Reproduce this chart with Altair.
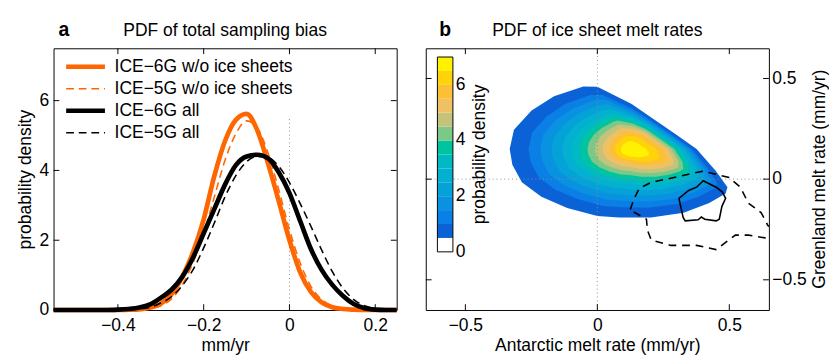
import altair as alt
import pandas as pd

FONT = "Liberation Sans"
FS = 18

# ---------------- panel a : PDF of total sampling bias ----------------
bias_x = [-0.55, -0.525, -0.5, -0.475, -0.45, -0.425, -0.4, -0.375, -0.35, -0.325,
          -0.3, -0.275, -0.25, -0.225, -0.2, -0.175, -0.15, -0.125, -0.1, -0.075,
          -0.05, -0.025, 0.0, 0.025, 0.05, 0.075, 0.1, 0.125, 0.15, 0.175, 0.2, 0.225, 0.25]
ice6g_wo = [0, 0, 0, 0, 0, 0, 0, 0.01, 0.02, 0.07, 0.18, 0.45, 0.95, 1.65, 2.6, 3.85, 4.85,
            5.45, 5.62, 5.15, 4.2, 3.12, 2.0, 1.08, 0.52, 0.22, 0.08, 0.03, 0.01, 0, 0, 0, 0]
ice5g_wo = [0, 0, 0, 0, 0, 0, 0, 0, 0.01, 0.04, 0.12, 0.32, 0.72, 1.35, 2.2, 3.25, 4.3,
            5.05, 5.42, 5.22, 4.5, 3.45, 2.3, 1.35, 0.68, 0.3, 0.12, 0.05, 0.02, 0.01, 0, 0, 0]
ice6g_all = [0, 0, 0, 0, 0, 0, 0.01, 0.03, 0.07, 0.16, 0.35, 0.58, 0.95, 1.5, 2.2, 2.9, 3.6,
             4.15, 4.4, 4.45, 4.35, 3.95, 3.35, 2.55, 1.75, 1.15, 0.72, 0.4, 0.17, 0.05, 0.01, 0, 0]
ice5g_all = [0, 0, 0, 0, 0, 0, 0, 0.01, 0.03, 0.08, 0.2, 0.38, 0.7, 1.15, 1.78, 2.5, 3.25,
             3.85, 4.25, 4.4, 4.37, 4.12, 3.65, 3.05, 2.4, 1.72, 1.1, 0.62, 0.3, 0.12, 0.04, 0.01, 0]
series_names = ["ICE\u22126G w/o ice sheets", "ICE\u22125G w/o ice sheets",
                "ICE\u22126G all", "ICE\u22125G all"]
series_values = [ice6g_wo, ice5g_wo, ice6g_all, ice5g_all]
series_color = ["#ff6600", "#ff6600", "#000000", "#000000"]
series_width = [4.8, 1.6, 4.8, 1.6]
series_dashed = [False, True, False, True]
bias_ticks_x = [-0.4, -0.2, 0, 0.2]
bias_ticks_y = [0, 2, 4, 6]
bias_zero_line_top = [5.56]

# ---------------- panel b : PDF of ice sheet melt rates ----------------
peak_xy = [0.143, 0.149]
outer_x = [-0.053, 0.000, 0.130, 0.207, 0.254, 0.305, 0.376, 0.449, 0.493, 0.486, 0.424, 0.327,
           0.203, 0.082, 0.000, -0.114, -0.212, -0.286, -0.322, -0.332, -0.316, -0.249, -0.164]
outer_y = [0.460, 0.459, 0.373, 0.304, 0.262, 0.216, 0.150, 0.040, -0.040, -0.071, -0.118, -0.167,
           -0.190, -0.190, -0.183, -0.143, -0.088, -0.016, 0.071, 0.150, 0.246, 0.341, 0.412]
# how strongly the bands are packed toward the edge on each side (0 = wide bands, 1 = packed)
side_weight = [0.2, 0.3, 0.7, 1.0, 1.0, 1.0, 1.0, 0.8, 0.55, 0.45, 0.35, 0.2,
               0.1, 0.0, 0.0, 0.0, 0.0, 0.0, 0.0, 0.0, 0.0, 0.05, 0.1]
contour_levels = [0.5, 1.0, 1.5, 2.0, 2.5, 3.0, 3.5, 4.0, 4.5, 5.0, 5.5, 6.0, 6.5]
frac_wide = [1.0, 0.85, 0.757, 0.667, 0.58, 0.505, 0.44, 0.38, 0.32, 0.26, 0.205, 0.16, 0.113]
frac_packed = [1.0, 0.92, 0.88, 0.84, 0.79, 0.74, 0.69, 0.64, 0.59, 0.53, 0.45, 0.34, 0.18]
band_colors = ["#ffffff", "#0b62d6", "#0a7fe6", "#0892e0", "#05a2d8", "#03b0d0", "#00bac3",
               "#00c49f", "#7cc887", "#c4c37c", "#eec264", "#fdbf34", "#ffd30a", "#fff200"]
band_lo = [0, 0.5, 1, 1.5, 2, 2.5, 3, 3.5, 4, 4.5, 5, 5.5, 6, 6.5]
band_hi = [0.5, 1, 1.5, 2, 2.5, 3, 3.5, 4, 4.5, 5, 5.5, 6, 6.5, 7]
colorbar_ticks = [0, 2, 4, 6]

solid_x = [0.309, 0.346, 0.376, 0.401, 0.450, 0.474, 0.486, 0.472, 0.462, 0.450, 0.407, 0.394,
           0.382, 0.333, 0.325, 0.309]
solid_y = [-0.095, -0.056, -0.040, -0.008, -0.040, -0.064, -0.095, -0.135, -0.199, -0.207, -0.199,
           -0.188, -0.202, -0.207, -0.190, -0.095]
dashed_x = [0.125, 0.137, 0.159, 0.204, 0.290, 0.401, 0.499, 0.542, 0.572, 0.621, 0.646, 0.680,
            0.646, 0.572, 0.523, 0.450, 0.376, 0.278, 0.204, 0.190, 0.186, 0.143, 0.125]
dashed_y = [-0.151, -0.103, -0.046, -0.016, 0.008, 0.040, 0.008, -0.040, -0.119, -0.167, -0.230,
            -0.262, -0.294, -0.278, -0.278, -0.350, -0.329, -0.329, -0.302, -0.254, -0.199, -0.167,
            -0.151]
melt_ticks = [-0.5, 0, 0.5]

# ---------------- layout constants ----------------
W, H = 354, 270
TICK = 6
GRAY = "#8c8c8c"


def inward_ticks(xfield_enc, yfield_enc, xvals, yvals, w, h):
    dx = pd.DataFrame({"x": xvals})
    dy = pd.DataFrame({"y": yvals})
    base = dict(color="black", strokeWidth=1)
    return [
        alt.Chart(dx).mark_rule(**base).encode(x=xfield_enc, y=alt.value(h), y2=alt.value(h - TICK)),
        alt.Chart(dx).mark_rule(**base).encode(x=xfield_enc, y=alt.value(0), y2=alt.value(TICK)),
        alt.Chart(dy).mark_rule(**base).encode(y=yfield_enc, x=alt.value(0), x2=alt.value(TICK)),
        alt.Chart(dy).mark_rule(**base).encode(y=yfield_enc, x=alt.value(w - TICK), x2=alt.value(w)),
    ]


one = pd.DataFrame({"k": [0]})

# ===== panel a =====
XA = alt.X("x:Q", scale=alt.Scale(domain=[-0.55, 0.25], nice=False, zero=False),
           axis=alt.Axis(values=bias_ticks_x, format="~g", title="mm/yr", grid=False, ticks=False,
                         domain=False, labelPadding=7.5, titlePadding=2, labelFlush=False))
YA = alt.Y("y:Q", scale=alt.Scale(domain=[0, 7.5], nice=False, zero=False),
           axis=alt.Axis(values=bias_ticks_y, format="~g", title="probability density", grid=False,
                         ticks=False, domain=False, labelPadding=5, titlePadding=5, labelFlush=False))

rows = []
for s, vals in enumerate(series_values):
    for xv, yv in zip(bias_x, vals):
        rows.append({"s": s, "x": xv, "y": yv})
curves = pd.DataFrame(rows)

layers_a = []
layers_a.append(
    alt.Chart(pd.DataFrame({"x": [0], "y": [0], "y2": bias_zero_line_top}))
    .mark_rule(color=GRAY, strokeDash=[1, 3], strokeWidth=1)
    .encode(x=XA, y=YA, y2="y2:Q")
)
for s in range(4):
    kw = dict(color=series_color[s], strokeWidth=series_width[s], interpolate="monotone")
    if series_dashed[s]:
        kw["strokeDash"] = [8, 5]
    layers_a.append(
        alt.Chart(curves).transform_filter(alt.datum.s == s).mark_line(**kw).encode(x=XA, y=YA)
    )
# legend
LEG_Y0, LEG_STEP = 19, 22.7
for s in range(4):
    ly = LEG_Y0 + LEG_STEP * s
    kw = dict(color=series_color[s], strokeWidth=series_width[s])
    if series_dashed[s]:
        kw["strokeDash"] = [8, 5]
    layers_a.append(alt.Chart(one).mark_rule(**kw).encode(
        x=alt.value(13), x2=alt.value(53), y=alt.value(ly)))
    layers_a.append(alt.Chart(one).mark_text(align="left", baseline="middle", font=FONT, fontSize=FS,
                                             color="black").encode(
        x=alt.value(63), y=alt.value(ly), text=alt.value(series_names[s])))
layers_a += inward_ticks(XA, YA, bias_ticks_x, bias_ticks_y, W, H)
layers_a.append(alt.Chart(one).mark_text(align="left", baseline="alphabetic", font=FONT, fontSize=20,
                                         fontWeight="bold", color="black").encode(
    x=alt.value(5), y=alt.value(-12.5), text=alt.value("a")))
layers_a.append(alt.Chart(one).mark_text(align="center", baseline="alphabetic", font=FONT, fontSize=FS,
                                         color="black").encode(
    x=alt.value(W / 2), y=alt.value(-12.5), text=alt.value("PDF of total sampling bias")))
panel_a = alt.layer(*layers_a).properties(width=W, height=H)

# ===== panel b =====
xb_scale = alt.Scale(domain=[-0.65, 0.65], nice=False, zero=False)
yb_scale = alt.Scale(domain=[-0.65, 0.65], nice=False, zero=False)
XB = alt.X("x:Q", scale=xb_scale,
           axis=alt.Axis(values=melt_ticks, format="~g", title="Antarctic melt rate (mm/yr)", grid=False,
                         ticks=False, domain=False, labelPadding=7.5, titlePadding=2, labelFlush=False))
YB_AX = alt.Y("y:Q", scale=yb_scale,
              axis=alt.Axis(orient="right", values=melt_ticks, format="~g", title=None, grid=False,
                            ticks=False, domain=False, labelPadding=3, labelFlush=False))
YB = alt.Y("y:Q", scale=yb_scale, axis=None)

crow = []
n = len(outer_x)
for li, lvl in enumerate(contour_levels):
    for vi in range(n + 1):
        k = vi % n
        f = (1 - side_weight[k]) * frac_wide[li] + side_weight[k] * frac_packed[li]
        crow.append({"li": li, "idx": vi,
                     "x": peak_xy[0] + f * (outer_x[k] - peak_xy[0]),
                     "y": peak_xy[1] + f * (outer_y[k] - peak_xy[1])})
contours = pd.DataFrame(crow)

layers_b = []
for li, lvl in enumerate(contour_levels):
    layers_b.append(
        alt.Chart(contours).transform_filter(alt.datum.li == li)
        .mark_line(filled=True, color=band_colors[li + 1])
        .encode(x=XB, y=YB_AX if li == 0 else YB, order=alt.Order("idx:Q"))
    )
layers_b.append(alt.Chart(pd.DataFrame({"x": [0]})).mark_rule(color=GRAY, strokeDash=[1, 3], strokeWidth=1)
                .encode(x=XB))
layers_b.append(alt.Chart(pd.DataFrame({"y": [0]})).mark_rule(color=GRAY, strokeDash=[1, 3], strokeWidth=1)
                .encode(y=YB))
sol = pd.DataFrame({"x": solid_x, "y": solid_y, "idx": list(range(len(solid_x)))})
das = pd.DataFrame({"x": dashed_x, "y": dashed_y, "idx": list(range(len(dashed_x)))})
layers_b.append(alt.Chart(sol).mark_line(color="black", strokeWidth=1.6, clip=True)
                .encode(x=XB, y=YB, order=alt.Order("idx:Q")))
layers_b.append(alt.Chart(das).mark_line(color="black", strokeWidth=1.6, strokeDash=[8, 6], clip=True)
                .encode(x=XB, y=YB, order=alt.Order("idx:Q")))
layers_b += inward_ticks(XB, YB, melt_ticks, melt_ticks, W, H)

# colorbar
CB_Y = alt.Scale(domain=[0, 7], range=[210, 9], nice=False, zero=False)
cb = pd.DataFrame({"lo": band_lo, "hi": band_hi, "col": band_colors})
layers_b.append(alt.Chart(cb).mark_rect().encode(
    x=alt.value(12), x2=alt.value(28),
    y=alt.Y("lo:Q", scale=CB_Y, axis=None), y2="hi:Q",
    color=alt.Color("col:N", scale=None)))
layers_b.append(alt.Chart(pd.DataFrame({"lo": [band_lo[0]], "hi": [band_hi[-1]]}))
                .mark_rect(filled=False, stroke="black", strokeWidth=1).encode(
    x=alt.value(12), x2=alt.value(28),
    y=alt.Y("lo:Q", scale=CB_Y, axis=None), y2="hi:Q"))
layers_b.append(alt.Chart(pd.DataFrame({"v": colorbar_ticks})).mark_text(
    align="left", baseline="middle", font=FONT, fontSize=FS, color="black").encode(
    x=alt.value(31), y=alt.Y("v:Q", scale=CB_Y, axis=None), text=alt.Text("v:Q")))
layers_b.append(alt.Chart(one).mark_text(align="center", baseline="middle", angle=270, font=FONT,
                                         fontSize=FS, color="black").encode(
    x=alt.value(56), y=alt.value(109.5), text=alt.value("probability density")))
# right axis title
layers_b.append(alt.Chart(one).mark_text(align="center", baseline="middle", angle=270, font=FONT,
                                         fontSize=FS, color="black").encode(
    x=alt.value(W + 52.5), y=alt.value(H / 2), text=alt.value("Greenland melt rate (mm/yr)")))
layers_b.append(alt.Chart(one).mark_text(align="left", baseline="alphabetic", font=FONT, fontSize=20,
                                         fontWeight="bold", color="black").encode(
    x=alt.value(14), y=alt.value(-12.5), text=alt.value("b")))
layers_b.append(alt.Chart(one).mark_text(align="center", baseline="alphabetic", font=FONT, fontSize=FS,
                                         color="black").encode(
    x=alt.value(W / 2), y=alt.value(-12.5), text=alt.value("PDF of ice sheet melt rates")))
panel_b = alt.layer(*layers_b).resolve_scale(y="independent").properties(width=W, height=H)

chart = (
    alt.hconcat(panel_a, panel_b, spacing=18)
    .properties(padding={"left": 8, "top": 7, "right": 0, "bottom": 0}, background="white")
    .configure_view(stroke="black", strokeWidth=1)
    .configure_axis(labelFont=FONT, titleFont=FONT, labelFontSize=FS, titleFontSize=FS,
                    labelColor="black", titleColor="black", titleFontWeight="normal")
)

chart.save("out.html", embed_options={"renderer": "svg", "actions": False})
